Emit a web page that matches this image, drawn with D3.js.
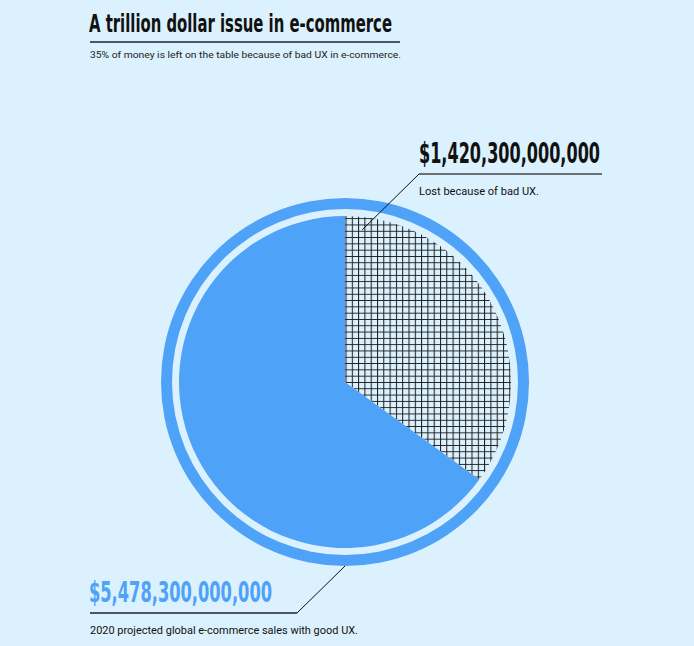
<!DOCTYPE html>
<html>
<head>
<meta charset="utf-8">
<script src="https://cdn.jsdelivr.net/npm/d3@7"></script>
<style>
  html, body { margin: 0; padding: 0; background: #dbf1fd; }
  svg { display: block; }
</style>
</head>
<body>
<svg id="chart" width="694" height="646"></svg>
<script>
"use strict";

// chart values
const titleText = "A trillion dollar issue in e-commerce";
const subtitleText = "35% of money is left on the table because of bad UX in e-commerce.";
const sliceNames = ["lost", "good"];
const sliceShares = [35, 65];
const sliceAmounts = ["$1,420,300,000,000", "$5,478,300,000,000"];
const sliceNotes = ["Lost because of bad UX.", "2020 projected global e-commerce sales with good UX."];

const W = 694, H = 646;
const blue = "#4ea2f8", bg = "#dbf1fd", ink = "#111";
const cx = 345, cy = 382;
const rPie = 166, rRingIn = 173, rRingOut = 184;

const condensed = "'Liberation Sans Narrow', 'DejaVu Sans Condensed', 'Roboto Condensed', 'Liberation Sans', sans-serif";
const body = "Roboto, 'DejaVu Sans', sans-serif";

const svg = d3.select("#chart");

svg.append("rect").attr("width", W).attr("height", H).attr("fill", bg);

// cross hatch pattern for the lost slice
const defs = svg.append("defs");
const pat = defs.append("pattern")
    .attr("id", "grid")
    .attr("patternUnits", "userSpaceOnUse")
    .attr("x", cx + 2).attr("y", 0)
    .attr("width", 6.3).attr("height", 6.3);
pat.append("rect").attr("width", 6.3).attr("height", 6.3).attr("fill", bg);
pat.append("path")
    .attr("d", "M0.5,0V6.3M0,0.5H6.3")
    .attr("stroke", "#1b1b1b")
    .attr("stroke-width", 1)
    .attr("fill", "none");

// header
svg.append("text")
    .attr("x", 89).attr("y", 32)
    .attr("font-family", condensed)
    .attr("font-weight", "bold")
    .attr("font-size", 25)
    .attr("fill", ink)
    .attr("textLength", 303)
    .attr("lengthAdjust", "spacingAndGlyphs")
    .text(titleText);

svg.append("line")
    .attr("x1", 90).attr("x2", 400)
    .attr("y1", 42).attr("y2", 42)
    .attr("stroke", "#222").attr("stroke-width", 1.5);

svg.append("text")
    .attr("x", 90).attr("y", 58)
    .attr("font-family", body)
    .attr("font-size", 8.5)
    .attr("fill", "#222")
    .attr("textLength", 311)
    .attr("lengthAdjust", "spacingAndGlyphs")
    .text(subtitleText);

// ring + pie
const g = svg.append("g").attr("transform", `translate(${cx},${cy})`);

g.append("path")
    .attr("d", d3.arc().innerRadius(rRingIn).outerRadius(rRingOut)
        .startAngle(0).endAngle(2 * Math.PI)())
    .attr("fill", blue);

const pie = d3.pie().sort(null).value((d) => d);
const arcs = pie(sliceShares);
const arc = d3.arc().innerRadius(0).outerRadius(rPie);

g.selectAll("path.slice")
    .data(arcs)
    .enter()
    .append("path")
    .attr("class", "slice")
    .attr("d", arc)
    .attr("fill", (d, i) => sliceNames[i] === "lost" ? "url(#grid)" : blue);

// annotations
const lostTip = d3.pointRadial(0.112, 153);
const goodTip = d3.pointRadial(Math.PI, rRingOut);

const notes = [
    { x: 419, rule: [419, 602], ruleY: 174, tip: lostTip, color: ink, ruleColor: "#444" },
    { x: 89,  rule: [90, 297],  ruleY: 613, tip: goodTip, color: blue, ruleColor: "#222" }
];

notes.forEach((n, i) => {
    const elbowX = i === 0 ? n.rule[0] : n.rule[1];

    svg.append("line")
        .attr("x1", n.rule[0]).attr("x2", n.rule[1])
        .attr("y1", n.ruleY).attr("y2", n.ruleY)
        .attr("stroke", n.ruleColor).attr("stroke-width", 1.5);

    svg.append("line")
        .attr("x1", elbowX).attr("y1", n.ruleY)
        .attr("x2", cx + n.tip[0]).attr("y2", cy + n.tip[1])
        .attr("stroke", "#111").attr("stroke-width", 1);

    svg.append("text")
        .attr("x", n.x).attr("y", n.ruleY - 11)
        .attr("font-family", condensed)
        .attr("font-weight", "bold")
        .attr("font-size", 28)
        .attr("fill", n.color)
        .attr("textLength", i === 0 ? 181 : 183)
        .attr("lengthAdjust", "spacingAndGlyphs")
        .text(sliceAmounts[i]);

    svg.append("text")
        .attr("x", n.rule[0]).attr("y", n.ruleY + 21)
        .attr("font-family", body)
        .attr("font-size", 10.5)
        .attr("fill", "#111")
        .attr("textLength", i === 0 ? 120 : 268)
        .attr("lengthAdjust", "spacingAndGlyphs")
        .text(sliceNotes[i]);
});
</script>
</body>
</html>
